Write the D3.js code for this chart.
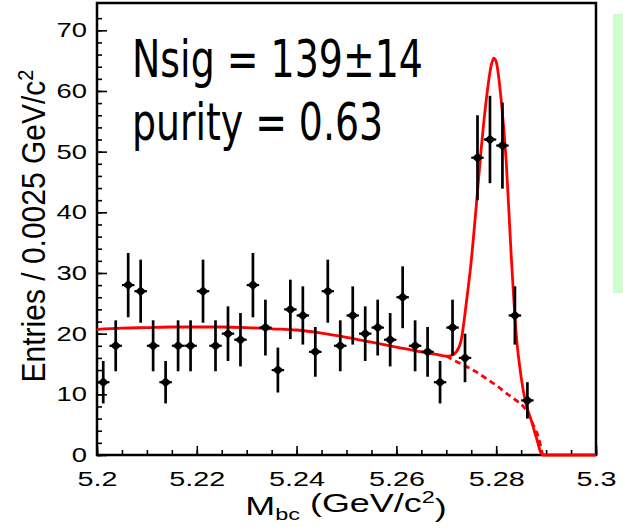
<!DOCTYPE html>
<html>
<head>
<meta charset="utf-8">
<script src="https://cdn.jsdelivr.net/npm/d3@7"></script>
<style>
    body { margin: 0; background: #ffffff; }
    svg { display: block; }
</style>
</head>
<body>
<svg id="mbc-chart"></svg>
<script>
/*--------------------------------------------------------------------------------
----- MBC DISTRIBUTION (entries per bin with the signal + background fit)
--------------------------------------------------------------------------------*/

// Bin centres (GeV/c2) of the measured entries
const bin_centers = [
    5.20125, 5.20375, 5.20625, 5.20875, 5.21125, 5.21375, 5.21625, 5.21875,
    5.22125, 5.22375, 5.22625, 5.22875, 5.23125, 5.23375, 5.23625, 5.23875,
    5.24125, 5.24375, 5.24625, 5.24875, 5.25125, 5.25375, 5.25625, 5.25875,
    5.26125, 5.26375, 5.26625, 5.26875, 5.27125, 5.27375, 5.27625, 5.27875,
    5.28125, 5.28375, 5.28625
];

// Entries per bin
const bin_entries = [
    12, 18, 28, 27, 18, 12, 18, 18,
    27, 18, 20, 19, 28, 21, 14, 24,
    23, 17, 27, 18, 23, 20, 21, 19,
    26, 18, 17, 12, 21, 16, 49, 52,
    51, 23, 9
];

// Vertical error of each bin
const bin_errors = [
    3.5, 4.2, 5.3, 5.2, 4.2, 3.5, 4.2, 4.2,
    5.2, 4.2, 4.5, 4.4, 5.3, 4.6, 3.7, 4.9,
    4.8, 4.1, 5.2, 4.2, 4.8, 4.5, 4.6, 4.4,
    5.1, 4.2, 4.1, 3.5, 4.6, 4.0, 7.0, 7.2,
    7.1, 4.8, 3.0
];

// Total fit curve (signal + background)
const fit_mass = [
    5.200, 5.205, 5.210, 5.215, 5.220, 5.225, 5.230, 5.235, 5.240, 5.245,
    5.250, 5.255, 5.260, 5.265, 5.268, 5.270, 5.271, 5.272, 5.273, 5.274,
    5.275, 5.276, 5.277, 5.278, 5.279, 5.2795, 5.280, 5.281, 5.282, 5.283,
    5.284, 5.285, 5.286, 5.287, 5.288, 5.2893, 5.300
];
const fit_total = [
    20.7, 20.9, 21.0, 21.1, 21.1, 21.1, 21.0, 20.8, 20.6, 20.1,
    19.4, 18.6, 17.8, 17.0, 16.6, 16.3, 16.4, 17.0, 19.0, 25.0,
    32.0, 41.0, 50.5, 58.5, 64.2, 65.4, 64.8, 58.5, 48.5, 33.0,
    20.0, 12.8, 8.3, 5.8, 3.0, 0, 0
];

// Background-only part of the fit (dashed)
const bkg_mass = [5.270, 5.272, 5.274, 5.276, 5.278, 5.280, 5.282, 5.284, 5.286, 5.2873, 5.2885, 5.2893];
const bkg_values = [16.3, 15.4, 14.6, 13.7, 12.6, 11.5, 10.2, 9.0, 7.4, 5.2, 2.8, 0];

// Axis tick values
const x_tick_values = [5.2, 5.22, 5.24, 5.26, 5.28, 5.3];
const y_tick_values = [0, 10, 20, 30, 40, 50, 60, 70];

// Chart dimensions
const chart_width = 623, chart_height = 532;
const plot_left = 97, plot_right = 596, plot_top = 3, plot_bottom = 455;

const svg = d3.select('#mbc-chart')
    .attr('width', chart_width)
    .attr('height', chart_height);

// Scales
const x_scale = d3.scaleLinear().domain([5.2, 5.3]).range([plot_left, plot_right]);
const y_scale = d3.scaleLinear().domain([0, 74.5]).range([plot_bottom, plot_top]);

// Light green strip on the right side
svg.append('rect')
    .attr('x', 613).attr('y', 14)
    .attr('width', 12).attr('height', 279)
    .attr('fill', '#ccffcc');

// Tick label font (stretched horizontally like the original)
const tick_font = 'Liberation Sans, Arial, sans-serif';

// Minor y ticks
svg.append('g')
    .attr('transform', 'translate(' + plot_left + ',0)')
    .call(d3.axisLeft(y_scale).tickValues(d3.range(0, 74, 2)).tickSizeInner(-5).tickSizeOuter(0).tickFormat(''))
    .call(g => g.select('.domain').remove())
    .selectAll('line').attr('stroke', '#000').attr('stroke-width', 1.6);

// Major y ticks and labels
const y_axis = svg.append('g')
    .attr('transform', 'translate(' + plot_left + ',0)')
    .call(d3.axisLeft(y_scale).tickValues(y_tick_values).tickSizeInner(-10).tickSizeOuter(0).tickPadding(10));
y_axis.select('.domain').remove();
y_axis.selectAll('line').attr('stroke', '#000').attr('stroke-width', 1.6);
y_axis.selectAll('text')
    .attr('x', -10 / 1.37)
    .attr('transform', 'scale(1.37,1)')
    .style('font-family', tick_font)
    .style('font-size', '20px')
    .attr('fill', '#000');

// Minor x ticks
svg.append('g')
    .attr('transform', 'translate(0,' + plot_bottom + ')')
    .call(d3.axisBottom(x_scale).tickValues(d3.range(0, 21).map(i => 5.2 + i * 0.005)).tickSizeInner(-5).tickSizeOuter(0).tickFormat(''))
    .call(g => g.select('.domain').remove())
    .selectAll('line').attr('stroke', '#000').attr('stroke-width', 1.6);

// Major x ticks and labels
const x_axis = svg.append('g')
    .attr('transform', 'translate(0,' + plot_bottom + ')')
    .call(d3.axisBottom(x_scale).tickValues(x_tick_values).tickSizeInner(-9).tickSizeOuter(0).tickPadding(16)
        .tickFormat(d => d3.format('')(+d.toFixed(2))));
x_axis.select('.domain').remove();
x_axis.selectAll('line').attr('stroke', '#000').attr('stroke-width', 1.6);
x_axis.selectAll('text')
    .attr('transform', 'scale(1.37,1)')
    .style('font-family', tick_font)
    .style('font-size', '21px')
    .attr('fill', '#000');

// Frame around the plot
svg.append('rect')
    .attr('x', plot_left).attr('y', plot_top)
    .attr('width', plot_right - plot_left).attr('height', plot_bottom - plot_top)
    .attr('fill', 'none')
    .attr('stroke', '#000')
    .attr('stroke-width', 2.5);

// Line generator for the fit curves
const fit_line = d3.line()
    .x(d => x_scale(d[0]))
    .y(d => y_scale(d[1]))
    .curve(d3.curveMonotoneX);

// Dashed background curve
svg.append('path')
    .datum(bkg_mass.map((m, i) => [m, bkg_values[i]]))
    .attr('d', fit_line)
    .attr('fill', 'none')
    .attr('stroke', '#ff0000')
    .attr('stroke-width', 2.8)
    .attr('stroke-dasharray', '6,4');

// Solid total fit curve
svg.append('path')
    .datum(fit_mass.map((m, i) => [m, fit_total[i]]))
    .attr('d', fit_line)
    .attr('fill', 'none')
    .attr('stroke', '#ff0000')
    .attr('stroke-width', 2.8);

// Data points with error bars
const points = svg.selectAll('.point')
    .data(bin_centers.map((m, i) => ({ m: m, n: bin_entries[i], e: bin_errors[i] })))
    .enter()
    .append('g')
    .attr('class', 'point');

points.append('line')
    .attr('x1', d => x_scale(d.m)).attr('x2', d => x_scale(d.m))
    .attr('y1', d => y_scale(d.n - d.e)).attr('y2', d => y_scale(d.n + d.e))
    .attr('stroke', '#000').attr('stroke-width', 2.7);

points.append('line')
    .attr('x1', d => x_scale(d.m - 0.00125)).attr('x2', d => x_scale(d.m + 0.00125))
    .attr('y1', d => y_scale(d.n)).attr('y2', d => y_scale(d.n))
    .attr('stroke', '#000').attr('stroke-width', 2.2);

points.append('path')
    .attr('d', d => {
        const cx = x_scale(d.m), cy = y_scale(d.n);
        return 'M' + (cx - 5.5) + ',' + cy + 'L' + cx + ',' + (cy - 5) + 'L' + (cx + 5.5) + ',' + cy + 'L' + cx + ',' + (cy + 5) + 'Z';
    })
    .attr('fill', '#000');

// Y axis title
const y_title = svg.append('text')
    .attr('transform', 'translate(45,226) scale(1.1,1) rotate(-90)')
    .attr('text-anchor', 'middle')
    .style('font-family', tick_font)
    .style('font-size', '30px')
    .attr('fill', '#000');
y_title.append('tspan').text('Entries / 0.0025 GeV/c');
y_title.append('tspan').attr('dy', '-0.55em').style('font-size', '20px').text('2');

// X axis title
const x_title = svg.append('text')
    .attr('transform', 'translate(346,515) scale(1.38,1)')
    .attr('text-anchor', 'middle')
    .style('font-family', tick_font)
    .style('font-size', '26px')
    .attr('fill', '#000');
x_title.append('tspan').text('M');
x_title.append('tspan').attr('dy', '0.3em').style('font-size', '17px').text('bc');
x_title.append('tspan').attr('dy', '-0.3em').text('\u00a0(GeV/c');
x_title.append('tspan').attr('dy', '-0.55em').style('font-size', '17px').text('2');
x_title.append('tspan').attr('dy', '0.55em').text(')');

// Fit result annotations
const note_font = 'Liberation Sans Narrow, DejaVu Sans Condensed, Arial Narrow, sans-serif';
svg.append('text')
    .attr('x', 132).attr('y', 77)
    .attr('textLength', 291).attr('lengthAdjust', 'spacingAndGlyphs')
    .style('font-family', note_font)
    .style('font-size', '51px')
    .attr('fill', '#000')
    .text('Nsig = 139\u00b114');
svg.append('text')
    .attr('x', 132).attr('y', 140)
    .attr('textLength', 251).attr('lengthAdjust', 'spacingAndGlyphs')
    .style('font-family', note_font)
    .style('font-size', '51px')
    .attr('fill', '#000')
    .text('purity = 0.63');
</script>
</body>
</html>
